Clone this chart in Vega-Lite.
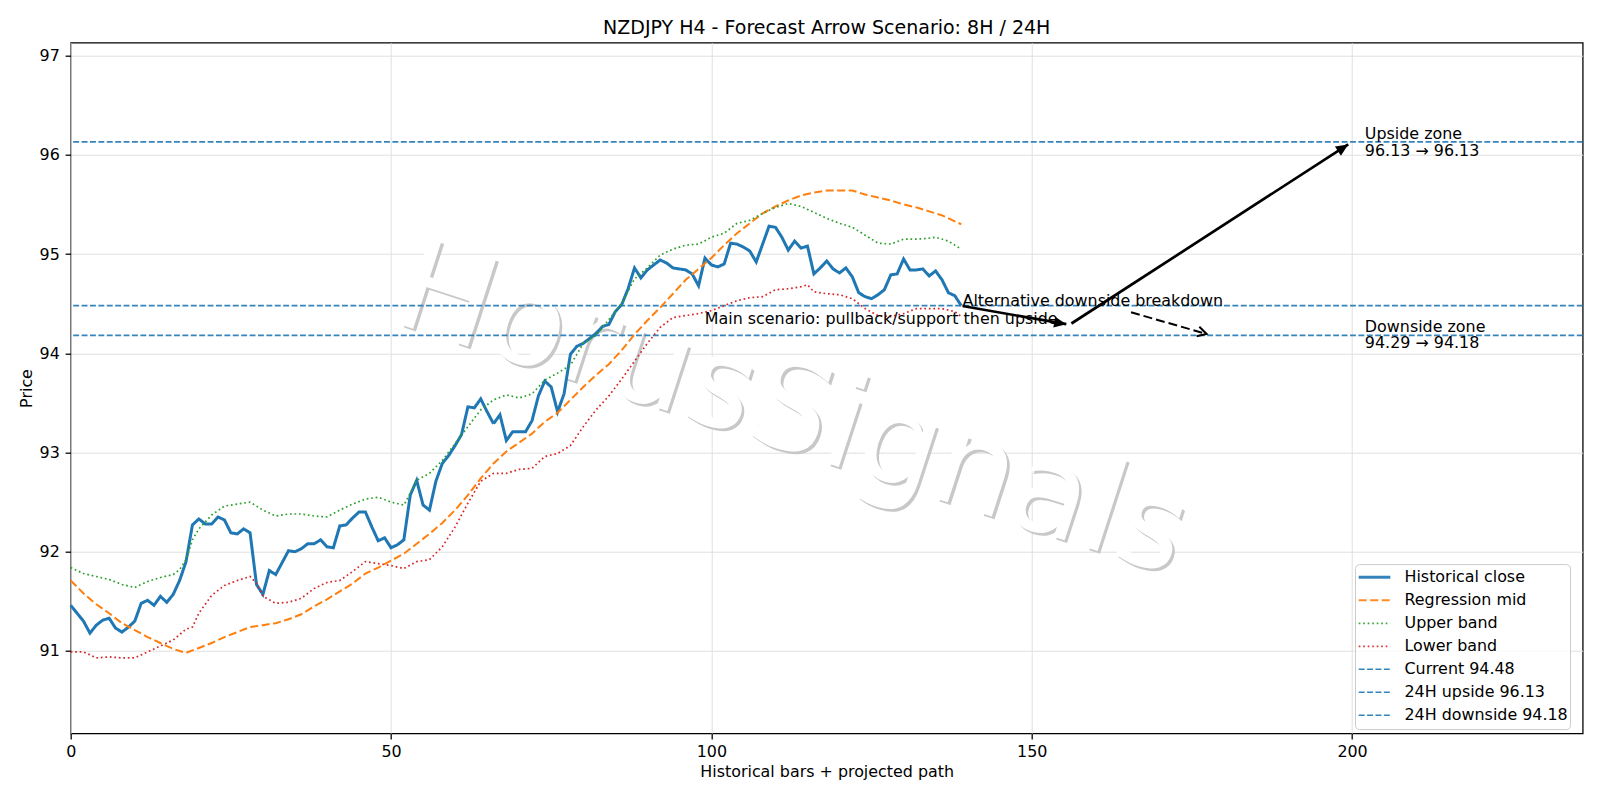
{
"$schema": "https://vega.github.io/schema/vega-lite/v6.json",
"width": 1512, "height": 690.6,
"autosize": {"type": "none"},
"padding": {"left": 70.7, "top": 42.7, "right": 17.3, "bottom": 66.7},
"background": "white",
"title": {"text": "NZDJPY H4 - Forecast Arrow Scenario: 8H / 24H", "fontSize": 19, "fontWeight": "normal", "font": "DejaVu Sans", "color": "#000", "anchor": "middle", "baseline": "alphabetic", "offset": 10.6, "dy": 21, "frame": "group"},
"datasets": {
"hlines": [
{"s": "Current 94.48", "y": 94.48},
{"s": "24H upside 96.13", "y": 96.13},
{"s": "24H downside 94.18", "y": 94.18}
],
"arrows": [
{"k": "a1", "x": 139.2, "y": 94.476, "x2": 155.4, "y2": 94.293},
{"k": "a2", "x": 156.2, "y": 94.30, "x2": 199.4, "y2": 96.105},
{"k": "a3", "x": 165.5, "y": 94.413, "x2": 177.3, "y2": 94.194}
],
"lines": [
{"s":"Historical close","x":0,"y":91.46},{"s":"Historical close","x":1,"y":91.38},{"s":"Historical close","x":2,"y":91.30},{"s":"Historical close","x":3,"y":91.18},{"s":"Historical close","x":4,"y":91.26},{"s":"Historical close","x":5,"y":91.31},{"s":"Historical close","x":6,"y":91.33},{"s":"Historical close","x":7,"y":91.23},{"s":"Historical close","x":8,"y":91.19},{"s":"Historical close","x":9,"y":91.24},
{"s":"Historical close","x":10,"y":91.30},{"s":"Historical close","x":11,"y":91.48},{"s":"Historical close","x":12,"y":91.51},{"s":"Historical close","x":13,"y":91.46},{"s":"Historical close","x":14,"y":91.55},{"s":"Historical close","x":15,"y":91.49},{"s":"Historical close","x":16,"y":91.57},{"s":"Historical close","x":17,"y":91.71},{"s":"Historical close","x":18,"y":91.90},{"s":"Historical close","x":19,"y":92.27},
{"s":"Historical close","x":20,"y":92.33},{"s":"Historical close","x":21,"y":92.28},{"s":"Historical close","x":22,"y":92.28},{"s":"Historical close","x":23,"y":92.35},{"s":"Historical close","x":24,"y":92.32},{"s":"Historical close","x":25,"y":92.19},{"s":"Historical close","x":26,"y":92.18},{"s":"Historical close","x":27,"y":92.23},{"s":"Historical close","x":28,"y":92.19},{"s":"Historical close","x":29,"y":91.67},
{"s":"Historical close","x":30,"y":91.57},{"s":"Historical close","x":31,"y":91.81},{"s":"Historical close","x":32,"y":91.77},{"s":"Historical close","x":33,"y":91.89},{"s":"Historical close","x":34,"y":92.01},{"s":"Historical close","x":35,"y":92.00},{"s":"Historical close","x":36,"y":92.03},{"s":"Historical close","x":37,"y":92.08},{"s":"Historical close","x":38,"y":92.08},{"s":"Historical close","x":39,"y":92.12},
{"s":"Historical close","x":40,"y":92.05},{"s":"Historical close","x":41,"y":92.04},{"s":"Historical close","x":42,"y":92.26},{"s":"Historical close","x":43,"y":92.27},{"s":"Historical close","x":44,"y":92.34},{"s":"Historical close","x":45,"y":92.40},{"s":"Historical close","x":46,"y":92.40},{"s":"Historical close","x":47,"y":92.25},{"s":"Historical close","x":48,"y":92.11},{"s":"Historical close","x":49,"y":92.14},
{"s":"Historical close","x":50,"y":92.04},{"s":"Historical close","x":51,"y":92.07},{"s":"Historical close","x":52,"y":92.12},{"s":"Historical close","x":53,"y":92.57},{"s":"Historical close","x":54,"y":92.72},{"s":"Historical close","x":55,"y":92.47},{"s":"Historical close","x":56,"y":92.42},{"s":"Historical close","x":57,"y":92.71},{"s":"Historical close","x":58,"y":92.89},{"s":"Historical close","x":59,"y":92.97},
{"s":"Historical close","x":60,"y":93.07},{"s":"Historical close","x":61,"y":93.18},{"s":"Historical close","x":62,"y":93.46},{"s":"Historical close","x":63,"y":93.45},{"s":"Historical close","x":64,"y":93.54},{"s":"Historical close","x":65,"y":93.41},{"s":"Historical close","x":66,"y":93.29},{"s":"Historical close","x":67,"y":93.38},{"s":"Historical close","x":68,"y":93.12},{"s":"Historical close","x":69,"y":93.21},
{"s":"Historical close","x":70,"y":93.21},{"s":"Historical close","x":71,"y":93.21},{"s":"Historical close","x":72,"y":93.32},{"s":"Historical close","x":73,"y":93.57},{"s":"Historical close","x":74,"y":93.72},{"s":"Historical close","x":75,"y":93.66},{"s":"Historical close","x":76,"y":93.41},{"s":"Historical close","x":77,"y":93.59},{"s":"Historical close","x":78,"y":93.99},{"s":"Historical close","x":79,"y":94.07},
{"s":"Historical close","x":80,"y":94.10},{"s":"Historical close","x":81,"y":94.15},{"s":"Historical close","x":82,"y":94.20},{"s":"Historical close","x":83,"y":94.27},{"s":"Historical close","x":84,"y":94.29},{"s":"Historical close","x":85,"y":94.42},{"s":"Historical close","x":86,"y":94.49},{"s":"Historical close","x":87,"y":94.65},{"s":"Historical close","x":88,"y":94.86},{"s":"Historical close","x":89,"y":94.76},
{"s":"Historical close","x":90,"y":94.84},{"s":"Historical close","x":91,"y":94.89},{"s":"Historical close","x":92,"y":94.94},{"s":"Historical close","x":93,"y":94.91},{"s":"Historical close","x":94,"y":94.86},{"s":"Historical close","x":95,"y":94.85},{"s":"Historical close","x":96,"y":94.84},{"s":"Historical close","x":97,"y":94.80},{"s":"Historical close","x":98,"y":94.68},{"s":"Historical close","x":99,"y":94.96},
{"s":"Historical close","x":100,"y":94.89},{"s":"Historical close","x":101,"y":94.87},{"s":"Historical close","x":102,"y":94.90},{"s":"Historical close","x":103,"y":95.11},{"s":"Historical close","x":104,"y":95.10},{"s":"Historical close","x":105,"y":95.07},{"s":"Historical close","x":106,"y":95.03},{"s":"Historical close","x":107,"y":94.92},{"s":"Historical close","x":108,"y":95.10},{"s":"Historical close","x":109,"y":95.28},
{"s":"Historical close","x":110,"y":95.27},{"s":"Historical close","x":111,"y":95.17},{"s":"Historical close","x":112,"y":95.04},{"s":"Historical close","x":113,"y":95.13},{"s":"Historical close","x":114,"y":95.06},{"s":"Historical close","x":115,"y":95.08},{"s":"Historical close","x":116,"y":94.80},{"s":"Historical close","x":117,"y":94.86},{"s":"Historical close","x":118,"y":94.93},{"s":"Historical close","x":119,"y":94.85},
{"s":"Historical close","x":120,"y":94.81},{"s":"Historical close","x":121,"y":94.86},{"s":"Historical close","x":122,"y":94.77},{"s":"Historical close","x":123,"y":94.61},{"s":"Historical close","x":124,"y":94.57},{"s":"Historical close","x":125,"y":94.55},{"s":"Historical close","x":126,"y":94.59},{"s":"Historical close","x":127,"y":94.64},{"s":"Historical close","x":128,"y":94.79},{"s":"Historical close","x":129,"y":94.80},
{"s":"Historical close","x":130,"y":94.95},{"s":"Historical close","x":131,"y":94.84},{"s":"Historical close","x":132,"y":94.84},{"s":"Historical close","x":133,"y":94.85},{"s":"Historical close","x":134,"y":94.78},{"s":"Historical close","x":135,"y":94.83},{"s":"Historical close","x":136,"y":94.74},{"s":"Historical close","x":137,"y":94.61},{"s":"Historical close","x":138,"y":94.58},{"s":"Historical close","x":139,"y":94.48},
{"s":"Regression mid","x":0,"y":91.71},{"s":"Regression mid","x":2,"y":91.58},{"s":"Regression mid","x":4,"y":91.47},{"s":"Regression mid","x":6,"y":91.38},{"s":"Regression mid","x":8,"y":91.28},{"s":"Regression mid","x":10,"y":91.21},{"s":"Regression mid","x":12,"y":91.14},{"s":"Regression mid","x":14,"y":91.08},{"s":"Regression mid","x":16,"y":91.02},{"s":"Regression mid","x":18,"y":90.98},
{"s":"Regression mid","x":20,"y":91.03},{"s":"Regression mid","x":22,"y":91.08},{"s":"Regression mid","x":24,"y":91.14},{"s":"Regression mid","x":26,"y":91.19},{"s":"Regression mid","x":28,"y":91.24},{"s":"Regression mid","x":30,"y":91.26},{"s":"Regression mid","x":32,"y":91.28},{"s":"Regression mid","x":34,"y":91.32},{"s":"Regression mid","x":36,"y":91.37},{"s":"Regression mid","x":38,"y":91.45},
{"s":"Regression mid","x":40,"y":91.52},{"s":"Regression mid","x":42,"y":91.60},{"s":"Regression mid","x":44,"y":91.68},{"s":"Regression mid","x":46,"y":91.78},{"s":"Regression mid","x":48,"y":91.84},{"s":"Regression mid","x":50,"y":91.91},{"s":"Regression mid","x":52,"y":91.98},{"s":"Regression mid","x":54,"y":92.08},{"s":"Regression mid","x":56,"y":92.18},{"s":"Regression mid","x":58,"y":92.29},
{"s":"Regression mid","x":60,"y":92.42},{"s":"Regression mid","x":62,"y":92.57},{"s":"Regression mid","x":64,"y":92.74},{"s":"Regression mid","x":66,"y":92.89},{"s":"Regression mid","x":68,"y":93.01},{"s":"Regression mid","x":70,"y":93.10},{"s":"Regression mid","x":72,"y":93.19},{"s":"Regression mid","x":74,"y":93.31},{"s":"Regression mid","x":76,"y":93.40},{"s":"Regression mid","x":78,"y":93.53},
{"s":"Regression mid","x":80,"y":93.66},{"s":"Regression mid","x":82,"y":93.78},{"s":"Regression mid","x":84,"y":93.89},{"s":"Regression mid","x":86,"y":94.03},{"s":"Regression mid","x":88,"y":94.19},{"s":"Regression mid","x":90,"y":94.33},{"s":"Regression mid","x":92,"y":94.46},{"s":"Regression mid","x":94,"y":94.60},{"s":"Regression mid","x":96,"y":94.74},{"s":"Regression mid","x":98,"y":94.85},
{"s":"Regression mid","x":100,"y":94.96},{"s":"Regression mid","x":102,"y":95.09},{"s":"Regression mid","x":104,"y":95.21},{"s":"Regression mid","x":106,"y":95.31},{"s":"Regression mid","x":108,"y":95.41},{"s":"Regression mid","x":110,"y":95.48},{"s":"Regression mid","x":112,"y":95.54},{"s":"Regression mid","x":114,"y":95.59},{"s":"Regression mid","x":116,"y":95.62},{"s":"Regression mid","x":118,"y":95.64},
{"s":"Regression mid","x":120,"y":95.64},{"s":"Regression mid","x":122,"y":95.64},{"s":"Regression mid","x":124,"y":95.60},{"s":"Regression mid","x":126,"y":95.57},{"s":"Regression mid","x":128,"y":95.54},{"s":"Regression mid","x":130,"y":95.50},{"s":"Regression mid","x":132,"y":95.47},{"s":"Regression mid","x":134,"y":95.43},{"s":"Regression mid","x":136,"y":95.39},{"s":"Regression mid","x":138,"y":95.33},{"s":"Regression mid","x":139,"y":95.30},
{"s":"Upper band","x":0,"y":91.84},{"s":"Upper band","x":2,"y":91.78},{"s":"Upper band","x":4,"y":91.75},{"s":"Upper band","x":6,"y":91.72},{"s":"Upper band","x":8,"y":91.67},{"s":"Upper band","x":10,"y":91.64},{"s":"Upper band","x":12,"y":91.70},{"s":"Upper band","x":14,"y":91.74},{"s":"Upper band","x":16,"y":91.77},{"s":"Upper band","x":17,"y":91.82},
{"s":"Upper band","x":18,"y":91.92},{"s":"Upper band","x":19,"y":92.12},{"s":"Upper band","x":20,"y":92.23},{"s":"Upper band","x":22,"y":92.37},{"s":"Upper band","x":24,"y":92.46},{"s":"Upper band","x":26,"y":92.48},{"s":"Upper band","x":28,"y":92.50},{"s":"Upper band","x":30,"y":92.42},{"s":"Upper band","x":32,"y":92.36},{"s":"Upper band","x":34,"y":92.38},
{"s":"Upper band","x":36,"y":92.38},{"s":"Upper band","x":38,"y":92.36},{"s":"Upper band","x":40,"y":92.35},{"s":"Upper band","x":42,"y":92.42},{"s":"Upper band","x":44,"y":92.48},{"s":"Upper band","x":46,"y":92.53},{"s":"Upper band","x":48,"y":92.55},{"s":"Upper band","x":50,"y":92.50},{"s":"Upper band","x":52,"y":92.47},{"s":"Upper band","x":53,"y":92.59},
{"s":"Upper band","x":54,"y":92.72},{"s":"Upper band","x":56,"y":92.79},{"s":"Upper band","x":58,"y":92.92},{"s":"Upper band","x":60,"y":93.09},{"s":"Upper band","x":62,"y":93.26},{"s":"Upper band","x":64,"y":93.43},{"s":"Upper band","x":66,"y":93.53},{"s":"Upper band","x":68,"y":93.58},{"s":"Upper band","x":70,"y":93.55},{"s":"Upper band","x":72,"y":93.59},
{"s":"Upper band","x":74,"y":93.73},{"s":"Upper band","x":76,"y":93.80},{"s":"Upper band","x":78,"y":93.88},{"s":"Upper band","x":80,"y":94.10},{"s":"Upper band","x":82,"y":94.18},{"s":"Upper band","x":84,"y":94.34},{"s":"Upper band","x":86,"y":94.50},{"s":"Upper band","x":88,"y":94.75},{"s":"Upper band","x":90,"y":94.86},{"s":"Upper band","x":92,"y":94.99},
{"s":"Upper band","x":94,"y":95.05},{"s":"Upper band","x":96,"y":95.09},{"s":"Upper band","x":98,"y":95.10},{"s":"Upper band","x":100,"y":95.17},{"s":"Upper band","x":102,"y":95.21},{"s":"Upper band","x":104,"y":95.31},{"s":"Upper band","x":106,"y":95.34},{"s":"Upper band","x":108,"y":95.41},{"s":"Upper band","x":110,"y":95.47},{"s":"Upper band","x":112,"y":95.51},
{"s":"Upper band","x":114,"y":95.48},{"s":"Upper band","x":116,"y":95.42},{"s":"Upper band","x":118,"y":95.36},{"s":"Upper band","x":120,"y":95.31},{"s":"Upper band","x":122,"y":95.27},{"s":"Upper band","x":124,"y":95.19},{"s":"Upper band","x":126,"y":95.11},{"s":"Upper band","x":128,"y":95.10},{"s":"Upper band","x":130,"y":95.15},{"s":"Upper band","x":132,"y":95.15},
{"s":"Upper band","x":134,"y":95.16},{"s":"Upper band","x":135,"y":95.17},{"s":"Upper band","x":137,"y":95.13},{"s":"Upper band","x":139,"y":95.05},
{"s":"Lower band","x":0,"y":90.99},{"s":"Lower band","x":2,"y":90.99},{"s":"Lower band","x":4,"y":90.93},{"s":"Lower band","x":6,"y":90.94},{"s":"Lower band","x":8,"y":90.93},{"s":"Lower band","x":10,"y":90.93},{"s":"Lower band","x":12,"y":90.99},{"s":"Lower band","x":14,"y":91.05},{"s":"Lower band","x":16,"y":91.11},{"s":"Lower band","x":18,"y":91.22},
{"s":"Lower band","x":19,"y":91.24},{"s":"Lower band","x":20,"y":91.38},{"s":"Lower band","x":22,"y":91.56},{"s":"Lower band","x":24,"y":91.66},{"s":"Lower band","x":26,"y":91.71},{"s":"Lower band","x":28,"y":91.75},{"s":"Lower band","x":29,"y":91.68},{"s":"Lower band","x":30,"y":91.55},{"s":"Lower band","x":32,"y":91.48},{"s":"Lower band","x":34,"y":91.49},
{"s":"Lower band","x":36,"y":91.53},{"s":"Lower band","x":38,"y":91.63},{"s":"Lower band","x":40,"y":91.69},{"s":"Lower band","x":42,"y":91.71},{"s":"Lower band","x":44,"y":91.80},{"s":"Lower band","x":46,"y":91.90},{"s":"Lower band","x":48,"y":91.88},{"s":"Lower band","x":50,"y":91.86},{"s":"Lower band","x":52,"y":91.83},{"s":"Lower band","x":54,"y":91.90},
{"s":"Lower band","x":56,"y":91.92},{"s":"Lower band","x":58,"y":92.05},{"s":"Lower band","x":60,"y":92.25},{"s":"Lower band","x":62,"y":92.49},{"s":"Lower band","x":64,"y":92.71},{"s":"Lower band","x":66,"y":92.79},{"s":"Lower band","x":68,"y":92.79},{"s":"Lower band","x":70,"y":92.83},{"s":"Lower band","x":72,"y":92.84},{"s":"Lower band","x":74,"y":92.96},
{"s":"Lower band","x":76,"y":92.99},{"s":"Lower band","x":78,"y":93.07},{"s":"Lower band","x":80,"y":93.26},{"s":"Lower band","x":82,"y":93.43},{"s":"Lower band","x":84,"y":93.57},{"s":"Lower band","x":86,"y":93.74},{"s":"Lower band","x":88,"y":93.92},{"s":"Lower band","x":90,"y":94.10},{"s":"Lower band","x":92,"y":94.26},{"s":"Lower band","x":94,"y":94.36},
{"s":"Lower band","x":96,"y":94.38},{"s":"Lower band","x":98,"y":94.40},{"s":"Lower band","x":100,"y":94.43},{"s":"Lower band","x":102,"y":94.48},{"s":"Lower band","x":104,"y":94.53},{"s":"Lower band","x":106,"y":94.56},{"s":"Lower band","x":108,"y":94.57},{"s":"Lower band","x":110,"y":94.64},{"s":"Lower band","x":112,"y":94.65},{"s":"Lower band","x":114,"y":94.67},
{"s":"Lower band","x":115,"y":94.69},{"s":"Lower band","x":116,"y":94.62},{"s":"Lower band","x":118,"y":94.60},{"s":"Lower band","x":120,"y":94.59},{"s":"Lower band","x":122,"y":94.55},{"s":"Lower band","x":124,"y":94.45},{"s":"Lower band","x":126,"y":94.38},{"s":"Lower band","x":128,"y":94.37},{"s":"Lower band","x":130,"y":94.40},{"s":"Lower band","x":132,"y":94.45},
{"s":"Lower band","x":134,"y":94.45},{"s":"Lower band","x":136,"y":94.45},{"s":"Lower band","x":138,"y":94.42},{"s":"Lower band","x":139,"y":94.37}
]
},
"encoding": {
"x": {"field": "x", "type": "quantitative", "scale": {"domain": [0, 236], "nice": false, "zero": false},
 "axis": {"values": [0, 50, 100, 150, 200], "title": "Historical bars + projected path", "labelPadding": 4.5, "titleX": 756, "titleY": 37.7, "titleBaseline": "middle", "titleAlign": "center", "labelFlush": false}},
"y": {"field": "y", "type": "quantitative", "scale": {"domain": [90.17, 97.13], "nice": false, "zero": false},
 "axis": {"values": [91, 92, 93, 94, 95, 96, 97], "title": "Price", "labelPadding": 5.8, "titleX": -44, "titleY": 345.3, "titleAngle": 270, "titleBaseline": "middle", "titleAlign": "center"}}
},
"layer": [
{"data": {"values": [{"t": "HorusSignals", "x": 112.6, "y": 93.41}]},
 "mark": {"type": "text", "fontSize": 126, "angle": 18, "align": "center", "baseline": "middle", "color": "#c8c8c8", "dx": 3.3, "dy": 1.8, "font": "DejaVu Sans"},
 "encoding": {"text": {"field": "t"}}},
{"data": {"values": [{"t": "HorusSignals", "x": 112.6, "y": 93.41}]},
 "mark": {"type": "text", "fontSize": 126, "angle": 18, "align": "center", "baseline": "middle", "color": "#ffffff", "font": "DejaVu Sans"},
 "encoding": {"text": {"field": "t"}}},
{"data": {"name": "hlines"},
 "mark": {"type": "rule", "opacity": 0.9},
 "encoding": {
  "x": null,
  "color": {"field": "s", "type": "nominal", "scale": {"domain": ["Historical close", "Regression mid", "Upper band", "Lower band", "Current 94.48", "24H upside 96.13", "24H downside 94.18"], "range": ["#1f77b4", "#ff7f0e", "#2ca02c", "#d62728", "#1f77b4", "#1f77b4", "#1f77b4"]}},
  "strokeDash": {"field": "s", "type": "nominal", "scale": {"domain": ["Historical close", "Regression mid", "Upper band", "Lower band", "Current 94.48", "24H upside 96.13", "24H downside 94.18"], "range": [[1, 0], [8, 3.5], [1.7, 2.8], [1.7, 2.8], [5.9, 2.5], [5.9, 2.5], [5.9, 2.5]]}},
  "strokeWidth": {"field": "s", "type": "nominal", "scale": {"type": "ordinal", "domain": ["Historical close", "Regression mid", "Upper band", "Lower band", "Current 94.48", "24H upside 96.13", "24H downside 94.18"], "range": [3, 2, 1.7, 1.7, 1.6, 1.6, 1.6]}}
 }},
{"data": {"name": "lines"},
 "mark": {"type": "line"},
 "encoding": {
  "color": {"field": "s", "type": "nominal", "scale": {"domain": ["Historical close", "Regression mid", "Upper band", "Lower band", "Current 94.48", "24H upside 96.13", "24H downside 94.18"], "range": ["#1f77b4", "#ff7f0e", "#2ca02c", "#d62728", "#1f77b4", "#1f77b4", "#1f77b4"]},
   "legend": {"title": null, "orient": "none", "legendX": 1284.3, "legendY": 521.4, "symbolType": "stroke", "symbolSize": 1000, "clipHeight": 22.4, "labelFontSize": 15.9, "labelFont": "DejaVu Sans", "labelColor": "#000", "labelOffset": 12.5, "rowPadding": 0, "padding": 2, "fillColor": "rgba(255,255,255,0.8)", "strokeColor": "#cccccc", "cornerRadius": 4, "labelLimit": 400}},
  "strokeDash": {"field": "s", "type": "nominal", "scale": {"domain": ["Historical close", "Regression mid", "Upper band", "Lower band", "Current 94.48", "24H upside 96.13", "24H downside 94.18"], "range": [[1, 0], [8, 3.5], [1.7, 2.8], [1.7, 2.8], [5.9, 2.5], [5.9, 2.5], [5.9, 2.5]]},
   "legend": {"title": null, "orient": "none", "legendX": 1284.3, "legendY": 521.4, "symbolType": "stroke", "symbolSize": 1000, "clipHeight": 22.4, "labelFontSize": 15.9, "labelFont": "DejaVu Sans", "labelColor": "#000", "labelOffset": 12.5, "rowPadding": 0, "padding": 2, "fillColor": "rgba(255,255,255,0.8)", "strokeColor": "#cccccc", "cornerRadius": 4, "labelLimit": 400}},
  "strokeWidth": {"field": "s", "type": "nominal", "scale": {"type": "ordinal", "domain": ["Historical close", "Regression mid", "Upper band", "Lower band", "Current 94.48", "24H upside 96.13", "24H downside 94.18"], "range": [3, 2, 1.7, 1.7, 1.6, 1.6, 1.6]},
   "legend": {"title": null, "orient": "none", "legendX": 1284.3, "legendY": 521.4, "symbolType": "stroke", "symbolSize": 1000, "clipHeight": 22.4, "labelFontSize": 15.9, "labelFont": "DejaVu Sans", "labelColor": "#000", "labelOffset": 12.5, "rowPadding": 0, "padding": 2, "fillColor": "rgba(255,255,255,0.8)", "strokeColor": "#cccccc", "cornerRadius": 4, "labelLimit": 400}}
 }},
{"data": {"name": "arrows"}, "transform": [{"filter": "datum.k != 'a3'"}],
 "mark": {"type": "rule", "color": "#000", "strokeWidth": 2.7},
 "encoding": {"x2": {"field": "x2"}, "y2": {"field": "y2"}}},
{"data": {"name": "arrows"}, "transform": [{"filter": "datum.k == 'a3'"}],
 "mark": {"type": "rule", "color": "#000", "strokeWidth": 2, "strokeDash": [9, 4]},
 "encoding": {"x2": {"field": "x2"}, "y2": {"field": "y2"}}},
{"data": {"name": "arrows"}, "transform": [{"filter": "datum.k == 'a1'"}],
 "mark": {"type": "point", "shape": "M-1,-0.45L0,0L-1,0.45Z", "filled": true, "color": "#000", "opacity": 1, "size": 600, "angle": 9.9},
 "encoding": {"x": {"field": "x2", "type": "quantitative"}, "y": {"field": "y2", "type": "quantitative"}}},
{"data": {"name": "arrows"}, "transform": [{"filter": "datum.k == 'a2'"}],
 "mark": {"type": "point", "shape": "M-1,-0.45L0,0L-1,0.45Z", "filled": true, "color": "#000", "opacity": 1, "size": 600, "angle": -32.9},
 "encoding": {"x": {"field": "x2", "type": "quantitative"}, "y": {"field": "y2", "type": "quantitative"}}},
{"data": {"name": "arrows"}, "transform": [{"filter": "datum.k == 'a3'"}],
 "mark": {"type": "point", "shape": "M-1,-0.55L0,0L-1,0.55", "filled": false, "color": "#000", "opacity": 1, "size": 324, "strokeWidth": 2, "angle": 15.9},
 "encoding": {"x": {"field": "x2", "type": "quantitative"}, "y": {"field": "y2", "type": "quantitative"}}},
{"data": {"values": [{"t": "Alternative downside breakdown", "x": 139.2, "y": 94.48}]},
 "mark": {"type": "text", "fontSize": 15.9, "align": "left", "baseline": "alphabetic", "color": "#000", "font": "DejaVu Sans"},
 "encoding": {"text": {"field": "t"}}},
{"data": {"values": [{"t": "Main scenario: pullback/support then upside", "x": 126.5, "y": 94.295}]},
 "mark": {"type": "text", "fontSize": 15.9, "align": "center", "baseline": "alphabetic", "color": "#000", "font": "DejaVu Sans"},
 "encoding": {"text": {"field": "t"}}},
{"data": {"values": [{"t": "Upside zone\n96.13 → 96.13", "x": 202, "y": 96.205}, {"t": "Downside zone\n94.29 → 94.18", "x": 202, "y": 94.265}]},
 "mark": {"type": "text", "fontSize": 15.9, "align": "left", "baseline": "middle", "color": "#000", "font": "DejaVu Sans", "lineBreak": "\n", "lineHeight": 16.2},
 "encoding": {"text": {"field": "t"}}}
],
"config": {
 "font": "DejaVu Sans",
 "view": {"stroke": "#000", "strokeWidth": 1.27},
 "axis": {"domain": false, "grid": true, "gridColor": "#e0e0e0", "gridWidth": 1, "tickColor": "#000", "tickSize": 5.6, "tickWidth": 1.27, "labelFont": "DejaVu Sans", "labelFontSize": 15.9, "labelColor": "#000", "titleFont": "DejaVu Sans", "titleFontSize": 15.9, "titleFontWeight": "normal", "titleColor": "#000"}
}
}
